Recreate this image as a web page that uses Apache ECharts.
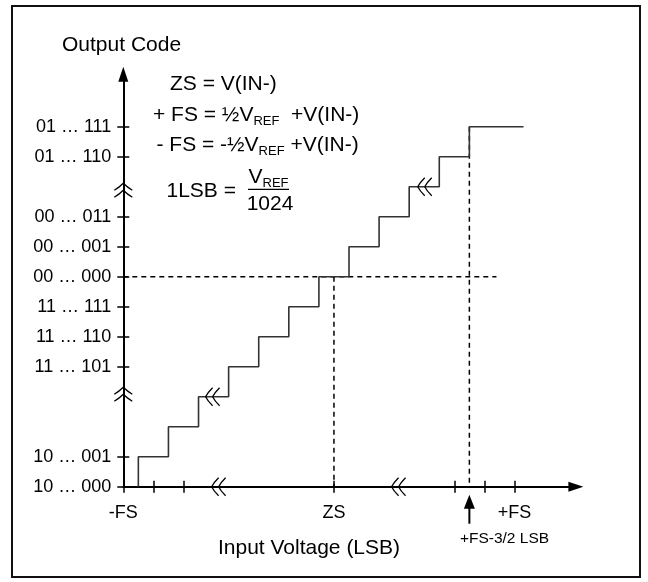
<!DOCTYPE html>
<html><head><meta charset="utf-8">
<script src="https://cdn.jsdelivr.net/npm/echarts@6/dist/echarts.min.js"></script>
<style>html,body{margin:0;padding:0;background:#fff}#c{width:648px;height:582px}</style>
</head><body><div id="c"></div>
<script>
// ---- data (axis units: x in LSB from -FS, y in code steps from 10...000) ----
const xTickValues = [0, 1, 2, 7, 11, 12, 13];
const xLabelValues = [0, 7, 13];
const xLabelTexts = ['-FS', 'ZS', '+FS'];
const yTickValues = [0, 1, 4, 5, 6, 7, 8, 9, 11, 12];
const yLabelTexts = ['10 … 000', '10 … 001', '11 … 101', '11 … 110', '11 … 111',
                     '00 … 000', '00 … 001', '00 … 011', '01 … 110', '01 … 111'];
const stairX = [0.5, 0.5, 1.5, 1.5, 2.5, 2.5, 3.5, 3.5, 4.5, 4.5, 5.5, 5.5, 6.5, 6.5,
                7.5, 7.5, 8.5, 8.5, 9.5, 9.5, 10.5, 10.5, 11.5, 11.5, 13.3];
const stairY = [0, 1, 1, 2, 2, 3, 3, 4, 4, 5, 5, 6, 6, 7,
                7, 8, 8, 9, 9, 10, 10, 11, 11, 12, 12];
const zeroCodeX = [0, 12.4];   const zeroCodeY = [7, 7];
const zsLineX = [7, 7];        const zsLineY = [7, 0];
const fsLineX = [11.5, 11.5];  const fsLineY = [12, 0];
const xBreaks = [3.15, 9.13];
const yBreaks = [3.1, 9.9];
const stairBreaksX = [2.95, 10.0];
const stairBreaksY = [3, 10];
const fsMarkX = 11.5;

const FONT = 'Liberation Sans, Arial, sans-serif';
const pairs = (xs, ys) => xs.map((x, i) => [x, ys[i]]);
const yLabelMap = {}; yTickValues.forEach((v, i) => yLabelMap[v] = yLabelTexts[i]);
const xLabelMap = {}; xLabelValues.forEach((v, i) => xLabelMap[v] = xLabelTexts[i]);

const chart = echarts.init(document.getElementById('c'), null, {renderer: 'canvas'});
const X_MAX = 15.04, Y_MAX = 13.75;
const tickStyle = {color: '#000', width: 1.5};
const option = {
  animation: false,
  backgroundColor: '#fff',
  grid: {left: 123.3, right: 72.1, top: 74.2, bottom: 95.3, containLabel: false, outerBoundsMode: 'none'},
  xAxis: [{
    type: 'value', min: 0, max: X_MAX, position: 'bottom',
    axisLine: {show: true, onZero: true, lineStyle: {color: '#000', width: 2},
               symbol: ['none', 'triangle'], symbolSize: [10, 15]},
    axisTick: {show: true, customValues: xTickValues, length: 6, lineStyle: tickStyle},
    axisLabel: {show: true, customValues: xLabelValues, formatter: v => xLabelMap[v] || '',
                fontSize: 18, fontFamily: FONT, color: '#000', margin: 17},
    splitLine: {show: false}
  }, {
    type: 'value', min: 0, max: X_MAX, position: 'bottom',
    axisLine: {show: false},
    axisTick: {show: true, inside: true, customValues: xTickValues, length: 6, lineStyle: tickStyle},
    axisLabel: {show: false}, splitLine: {show: false}
  }],
  yAxis: [{
    type: 'value', min: 0, max: Y_MAX, position: 'left',
    axisLine: {show: true, onZero: true, lineStyle: {color: '#000', width: 2},
               symbol: ['none', 'triangle'], symbolSize: [10, 15]},
    axisTick: {show: true, customValues: yTickValues, length: 6, lineStyle: tickStyle},
    axisLabel: {show: true, customValues: yTickValues, formatter: v => yLabelMap[v] || '',
                fontSize: 18, fontFamily: FONT, color: '#000', margin: 12},
    splitLine: {show: false}
  }, {
    type: 'value', min: 0, max: Y_MAX, position: 'left',
    axisLine: {show: false},
    axisTick: {show: true, inside: true, customValues: yTickValues, length: 6, lineStyle: tickStyle},
    axisLabel: {show: false}, splitLine: {show: false}
  }],
  series: [
    {type: 'line', data: pairs(zeroCodeX, zeroCodeY), showSymbol: false, z: 2,
     lineStyle: {color: '#000', width: 1.5, type: [5, 4]}},
    {type: 'line', data: pairs(zsLineX, zsLineY), showSymbol: false, z: 2,
     lineStyle: {color: '#000', width: 1.5, type: [5, 4]}},
    {type: 'line', data: pairs(fsLineX, fsLineY), showSymbol: false, z: 2,
     lineStyle: {color: '#000', width: 1.5, type: [5, 4]}},
    {type: 'line', data: pairs(stairX, stairY), showSymbol: false, z: 3,
     lineStyle: {color: '#333', width: 1.6}}
  ]
};
chart.setOption(option);

const px = (x, y) => chart.convertToPixel({gridIndex: 0}, [x, y]);
const g = [];
// border
g.push({type: 'rect', shape: {x: 12, y: 6, width: 628, height: 571},
        style: {fill: 'none', stroke: '#111', lineWidth: 2}, z: 1});
const bStyle = {stroke: '#000', lineWidth: 1.3, fill: 'none'};
// break marks for horizontal lines: two pointed "<" squiggles
function vBreak(cx, cy) {
  [-3.5, 3.5].forEach(d => {
    g.push({type: 'bezierCurve', z: 10, style: bStyle,
      shape: {x1: cx + d + 4, y1: cy - 9, cpx1: cx + d - 1, cpy1: cy - 4, x2: cx + d - 3, y2: cy}});
    g.push({type: 'bezierCurve', z: 10, style: bStyle,
      shape: {x1: cx + d - 3, y1: cy, cpx1: cx + d - 1, cpy1: cy + 4, x2: cx + d + 4, y2: cy + 9}});
  });
}
// break marks for the vertical axis: two pointed "^" squiggles
function hBreak(cx, cy) {
  [-3.5, 3.5].forEach(d => {
    g.push({type: 'bezierCurve', z: 10, style: bStyle,
      shape: {x1: cx - 9, y1: cy + d + 4, cpx1: cx - 4, cpy1: cy + d + 1, x2: cx, y2: cy + d - 3}});
    g.push({type: 'bezierCurve', z: 10, style: bStyle,
      shape: {x1: cx, y1: cy + d - 3, cpx1: cx + 4, cpy1: cy + d + 1, x2: cx + 9, y2: cy + d + 4}});
  });
}
xBreaks.forEach(v => { const p = px(v, 0); vBreak(p[0], p[1]); });
yBreaks.forEach(v => { const p = px(0, v); hBreak(p[0], p[1]); });
stairBreaksX.forEach((v, i) => { const p = px(v, stairBreaksY[i]); vBreak(p[0], p[1]); });
// +FS-3/2 LSB arrow
const pa = px(fsMarkX, 0);
g.push({type: 'line', shape: {x1: pa[0], y1: pa[1] + 20, x2: pa[0], y2: pa[1] + 37},
        style: {stroke: '#000', lineWidth: 2}, z: 10});
g.push({type: 'polygon', shape: {points: [[pa[0], pa[1] + 8], [pa[0] - 5.5, pa[1] + 22], [pa[0] + 5.5, pa[1] + 22]]},
        style: {fill: '#000'}, z: 10});
// texts
const base = {fill: '#000', fontSize: 21, fontFamily: FONT};
const sub = {fill: '#000', fontSize: 13, fontFamily: FONT, padding: [12, 0, 0, 0]};
const main = {fill: '#000', fontSize: 21, fontFamily: FONT};
function txt(x, y, text, align, extra) {
  g.push({type: 'text', x: x, y: y, z: 20,
    style: Object.assign({text: text, textAlign: align, textVerticalAlign: 'middle',
      align: align, verticalAlign: 'middle', rich: {s: sub, m: main}}, base, extra || {})});
}
txt(62, 45, 'Output Code', 'left');
txt(170, 84, 'ZS = V(IN-)', 'left');
txt(153, 115, '{m|+ FS = ½V}{s|REF}{m|  +V(IN-)}', 'left');
txt(156.5, 145, '{m|- FS = -½V}{s|REF}{m| +V(IN-)}', 'left');
txt(166.5, 191, '1LSB =', 'left');
txt(268.5, 177, '{m|V}{s|REF}', 'center');
g.push({type: 'line', shape: {x1: 248, y1: 189.3, x2: 289, y2: 189.3},
        style: {stroke: '#000', lineWidth: 1.3}, z: 20});
txt(270, 204, '1024', 'center');
txt(309, 548, 'Input Voltage (LSB)', 'center');
txt(504.5, 539, '+FS-3/2 LSB', 'center', {fontSize: 15.5});
chart.setOption({graphic: {elements: g}});
</script></body></html>
